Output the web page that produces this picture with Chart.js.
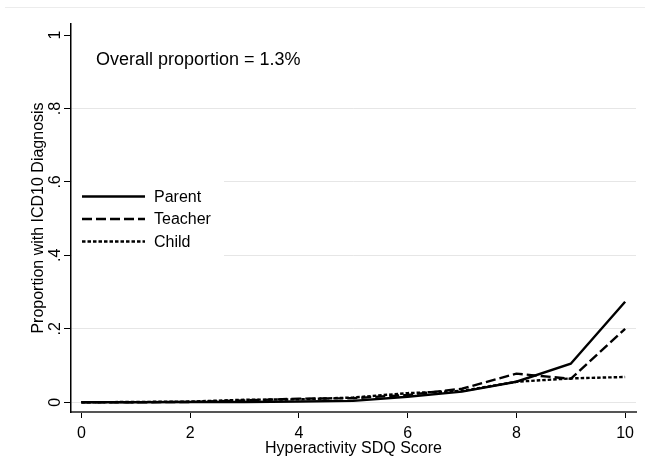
<!DOCTYPE html>
<html>
<head>
<meta charset="utf-8">
<script src="https://cdn.jsdelivr.net/npm/chart.js@4/dist/chart.umd.min.js"></script>
<style>
html,body{margin:0;padding:0;background:#fff;}
#wrap{width:645px;height:476px;position:relative;}
</style>
</head>
<body>
<div id="wrap"><canvas id="c" width="645" height="476"></canvas></div>
<script>
// ---- data ----
const scores = [0, 1, 2, 3, 4, 5, 6, 7, 8, 9, 10];
const parentVals  = [0, 0, 0.001, 0.001, 0.002, 0.004, 0.015, 0.029, 0.056, 0.105, 0.274];
const teacherVals = [0, 0, 0.001, 0.005, 0.010, 0.011, 0.020, 0.037, 0.078, 0.064, 0.200];
const childVals   = [0, 0.001, 0.002, 0.007, 0.008, 0.013, 0.025, 0.031, 0.056, 0.065, 0.069];
const seriesNames = ['Parent', 'Teacher', 'Child'];
const xTickValues = [0, 2, 4, 6, 8, 10];
const xTickLabels = ['0', '2', '4', '6', '8', '10'];
const yTickValues = [0, 0.2, 0.4, 0.6, 0.8, 1];
const yTickLabels = ['0', '.2', '.4', '.6', '.8', '1'];
const noteText = 'Overall proportion = 1.3%';
const xTitle = 'Hyperactivity SDQ Score';
const yTitle = 'Proportion with ICD10 Diagnosis';

const FONT = '"Liberation Sans", Arial, sans-serif';
const toPoints = vals => scores.map((x, i) => ({ x: x, y: vals[i] }));

const stataDecor = {
  id: 'stataDecor',
  beforeDraw(chart) {
    const ctx = chart.ctx;
    ctx.save();
    ctx.fillStyle = '#ffffff';
    ctx.fillRect(0, 0, chart.width, chart.height);
    ctx.strokeStyle = '#ececec';
    ctx.lineWidth = 1;
    ctx.beginPath();
    ctx.moveTo(5, 7.5);
    ctx.lineTo(chart.width, 7.5);
    ctx.stroke();
    ctx.restore();
  },
  beforeDatasetsDraw(chart) {
    const ctx = chart.ctx;
    const a = chart.chartArea;
    ctx.save();
    // legend background box
    ctx.fillStyle = '#ffffff';
    ctx.fillRect(a.left + 1, 168, 152, 100);
    // legend entries
    const lx0 = a.left + 11, lx1 = a.left + 74, tx = a.left + 83;
    chart.data.datasets.forEach((ds, i) => {
      const y = 196.5 + i * 22.5;
      ctx.strokeStyle = ds.borderColor;
      ctx.lineWidth = ds.borderWidth;
      ctx.setLineDash(ds.borderDash || []);
      ctx.beginPath();
      ctx.moveTo(lx0, y);
      ctx.lineTo(lx1, y);
      ctx.stroke();
      ctx.setLineDash([]);
      ctx.fillStyle = '#000';
      ctx.font = '16px ' + FONT;
      ctx.textAlign = 'left';
      ctx.textBaseline = 'middle';
      ctx.fillText(ds.label, tx, y + 1);
    });
    // note
    ctx.font = '18px ' + FONT;
    ctx.fillStyle = '#000';
    ctx.textAlign = 'left';
    ctx.textBaseline = 'middle';
    ctx.fillText(noteText, a.left + 25, 60);
    ctx.restore();
  }
};

new Chart(document.getElementById('c'), {
  type: 'line',
  data: {
    datasets: [
      { label: seriesNames[0], data: toPoints(parentVals),  borderColor: '#000', borderWidth: 2.4, borderDash: [] },
      { label: seriesNames[1], data: toPoints(teacherVals), borderColor: '#000', borderWidth: 2.4, borderDash: [10, 4] },
      { label: seriesNames[2], data: toPoints(childVals),   borderColor: '#000', borderWidth: 2.4, borderDash: [3.5, 2] }
    ]
  },
  options: {
    responsive: false,
    animation: false,
    devicePixelRatio: 1,
    layout: { padding: { left: 0, right: 9, top: 24, bottom: 0 } },
    elements: {
      point: { radius: 0, hoverRadius: 0 },
      line: { tension: 0, fill: false, borderCapStyle: 'butt' }
    },
    plugins: {
      legend: { display: false },
      tooltip: { enabled: false }
    },
    scales: {
      x: {
        type: 'linear',
        min: -0.19,
        max: 10.2,
        afterBuildTicks: s => { s.ticks = xTickValues.map(v => ({ value: v })); },
        afterFit: s => { s.height = 64; },
        ticks: {
          autoSkip: false,
          maxRotation: 0,
          minRotation: 0,
          padding: 6,
          color: '#000',
          font: { family: FONT, size: 16 },
          callback: v => xTickLabels[xTickValues.indexOf(v)]
        },
        grid: { drawOnChartArea: false, drawTicks: true, tickLength: 6, tickColor: '#000', tickWidth: 1 },
        border: { display: true, color: '#555', width: 2 },
        title: {
          display: true, text: xTitle, color: '#000',
          font: { family: FONT, size: 16 },
          padding: { top: 0, bottom: 17.5 }
        }
      },
      y: {
        type: 'linear',
        min: -0.0264,
        max: 1.03,
        afterBuildTicks: s => { s.ticks = yTickValues.map(v => ({ value: v })); },
        afterFit: s => { s.width = 71; },
        ticks: {
          autoSkip: false,
          minRotation: 90,
          maxRotation: 90,
          crossAlign: 'center',
          padding: 1.5,
          color: '#000',
          font: { family: FONT, size: 16 },
          callback: v => yTickLabels[yTickValues.indexOf(v)]
        },
        grid: {
          color: c => (c.tick && c.tick.value === 1) ? 'rgba(0,0,0,0)' : '#e6e6e6',
          lineWidth: 1,
          drawTicks: true,
          tickLength: 7,
          tickColor: '#000',
          tickWidth: 1
        },
        border: { display: true, color: '#000', width: 1.5 },
        title: {
          display: true, text: yTitle, color: '#000',
          font: { family: FONT, size: 16 },
          padding: { top: 28.5, bottom: 0 }
        }
      }
    }
  },
  plugins: [stataDecor]
});
</script>
</body>
</html>
